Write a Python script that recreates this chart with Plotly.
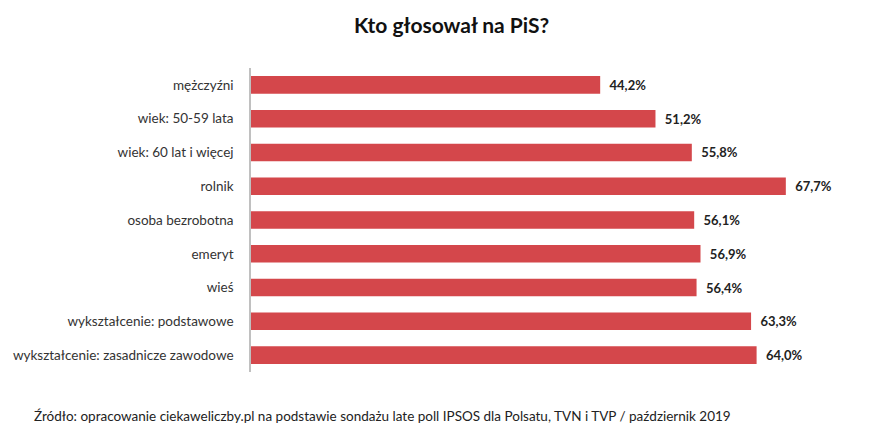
import plotly.graph_objects as go

categories = ["mężczyźni", "wiek: 50-59 lata", "wiek: 60 lat i więcej", "rolnik",
              "osoba bezrobotna", "emeryt", "wieś", "wykształcenie: podstawowe",
              "wykształcenie: zasadnicze zawodowe"]
values = [44.2, 51.2, 55.8, 67.7, 56.1, 56.9, 56.4, 63.3, 64.0]

title = "Kto głosował na PiS?"
source = "Źródło: opracowanie ciekaweliczby.pl na podstawie sondażu late poll IPSOS dla Polsatu, TVN i TVP / październik 2019"

FONT = "Lato"
OFF = 8  # page body margin offset

W, H = 880, 442
ML, MR, MT, MB = 251 - OFF, 50, 68 - OFF, 442 - (372 - OFF)

fig = go.Figure(go.Bar(
    y=categories, x=values, orientation="h",
    marker=dict(color="#d4474b", line=dict(width=0)),
    width=0.52,
    texttemplate="\u00a0\u00a0%{x:.1f}%", textposition="outside",
    textfont=dict(family=FONT, size=13, color="#222222", weight="bold"),
    cliponaxis=False,
))

pw = W - ML - MR
ph = H - MT - MB

fig.update_layout(
    width=W, height=H,
    margin=dict(l=ML, r=MR, t=MT, b=MB),
    paper_bgcolor="white", plot_bgcolor="white",
    separators=", ",
    showlegend=False,
    xaxis=dict(range=[0, (W - ML - MR) / 7.9], visible=False, fixedrange=True),
    yaxis=dict(autorange="reversed", showline=True, linecolor="#c0c0c0", linewidth=1.5,
               showgrid=False, ticks="", ticklabelstandoff=13, automargin=False,
               tickfont=dict(family=FONT, size=13.5, color="#333333")),
    annotations=[
        dict(text="<b>" + title + "</b>", xref="paper", yref="paper",
             x=(451 - OFF - ML) / pw, y=(H - MB - (25 - OFF)) / ph,
             xanchor="center", yanchor="middle", showarrow=False,
             font=dict(family=FONT, size=21, color="#111111")),
        dict(text=source, xref="paper", yref="paper",
             x=(32 - OFF - ML) / pw, y=(H - MB - (416 - OFF)) / ph,
             xanchor="left", yanchor="middle", showarrow=False,
             font=dict(family=FONT, size=13.5, color="#222222")),
    ],
)

fig.write_html("out.html")
